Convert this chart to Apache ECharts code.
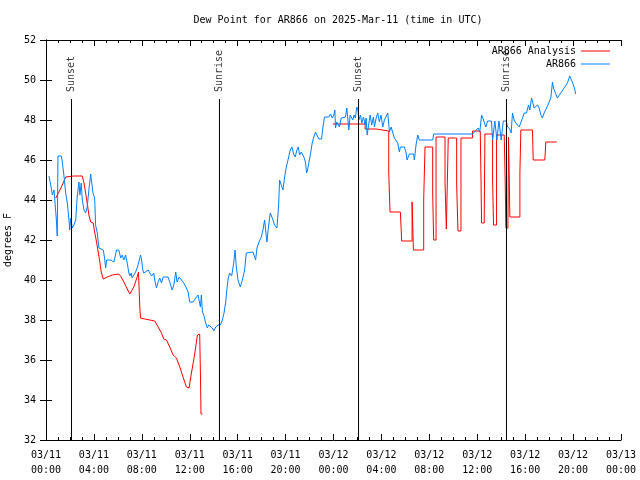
<!DOCTYPE html>
<html><head><meta charset="utf-8">
<script src="https://cdn.jsdelivr.net/npm/echarts@6/dist/echarts.min.js"></script>
<style>html,body{margin:0;padding:0;background:#fff}#c{width:640px;height:480px}</style>
</head><body><div id="c"></div>
<script>
const titleText = 'Dew Point for AR866 on 2025-Mar-11 (time in UTC)';
const yAxisName = 'degrees F';
const seriesNames = ['AR866 Analysis', 'AR866'];
const markerNames = ['Sunset', 'Sunrise', 'Sunset', 'Sunrise'];
const markerHours = [2.13, 14.48, 26.09, 38.44];
// [hours since 03/11 00:00 UTC, dew point F]
const ar866 = [
[0.25,45.2],[0.44,44.6],[0.53,44.25],[0.67,44.5],[0.81,44.6],[0.86,43.05],[0.94,42.2],[1.0,46.2],[1.28,46.2],[1.36,45.9],
[1.5,45.2],[1.64,44.35],[1.78,43.85],[1.92,43.0],[1.98,42.5],[2.06,43.1],[2.19,42.6],[2.33,42.75],[2.48,43.0],[2.61,44.2],
[2.75,44.9],[2.83,44.25],[2.94,44.85],[3.03,44.0],[3.17,43.5],[3.31,43.35],[3.44,43.65],[3.58,44.5],[3.73,45.3],[3.81,44.9],
[3.92,44.35],[4.06,44.1],[4.14,42.75],[4.28,42.35],[4.42,41.6],[4.56,41.5],[4.78,41.5],[4.89,41.1],[4.98,40.6],[5.06,41.0],
[5.39,41.0],[5.67,40.9],[5.89,41.5],[6.08,41.5],[6.23,41.1],[6.36,41.25],[6.5,41.0],[6.64,41.25],[6.78,40.85],[6.92,40.35],
[7.0,40.2],[7.11,40.35],[7.19,40.1],[7.33,40.1],[7.48,40.4],[7.61,40.6],[7.75,40.9],[7.89,41.25],[7.98,41.0],[8.08,40.5],
[8.17,40.35],[8.53,40.5],[8.67,40.35],[8.81,40.2],[9.0,40.35],[9.08,40.0],[9.22,39.6],[9.36,39.9],[9.5,40.1],[9.64,39.85],
[9.78,40.15],[10.19,40.15],[10.33,39.9],[10.53,39.5],[10.67,39.75],[10.83,40.4],[10.94,39.9],[11.11,40.15],[11.31,40.0],[11.5,39.85],
[11.72,39.6],[11.86,39.4],[12.0,38.9],[12.28,38.9],[12.5,39.1],[12.69,39.25],[12.83,39.25],[12.89,38.65],[12.97,39.25],[13.06,38.4],
[13.17,38.25],[13.31,37.9],[13.47,37.6],[13.58,37.75],[13.72,37.85],[13.89,37.6],[14.0,37.45],[14.17,37.65],[14.36,37.75],[14.56,37.75],
[14.72,38.0],[14.86,38.35],[15.0,38.9],[15.11,39.6],[15.22,40.1],[15.33,40.35],[15.5,40.2],[15.67,40.85],[15.78,41.5],[15.89,40.65],
[16.03,40.0],[16.22,39.65],[16.39,40.0],[16.58,40.5],[16.72,41.35],[16.86,41.4],[17.28,41.4],[17.5,41.0],[17.61,41.6],[17.78,41.9],
[17.97,42.15],[18.11,42.5],[18.25,43.0],[18.33,42.5],[18.44,41.9],[18.56,42.6],[18.72,43.35],[18.89,43.1],[19.08,42.75],[19.28,42.6],
[19.42,43.75],[19.5,45.0],[19.64,44.75],[19.78,44.5],[19.92,45.15],[20.06,45.65],[20.22,46.05],[20.39,46.5],[20.53,46.65],[20.67,46.3],
[20.81,46.15],[20.94,46.5],[21.06,46.65],[21.17,46.25],[21.31,46.4],[21.44,46.5],[21.56,46.1],[21.67,45.85],[21.75,45.35],[21.83,45.5],
[21.94,45.85],[22.08,46.3],[22.22,46.85],[22.36,47.15],[22.5,47.4],[22.61,47.25],[22.78,47.05],[23.0,47.05],[23.11,47.6],[23.25,48.15],
[23.61,48.15],[23.75,48.3],[23.89,48.1],[24.03,48.25],[24.11,48.5],[24.17,47.6],[24.28,47.9],[24.42,47.9],[24.5,47.65],[24.64,48.1],
[24.78,48.15],[25.0,48.15],[25.11,48.6],[25.19,48.1],[25.28,47.5],[25.39,48.25],[25.5,48.35],[25.61,48.0],[25.72,48.25],[25.83,48.1],
[25.94,48.65],[26.04,48.5],[26.11,48.0],[26.25,48.25],[26.36,47.85],[26.5,48.15],[26.64,47.75],[26.72,48.1],[26.81,47.25],[26.92,47.7],
[27.06,48.25],[27.19,47.75],[27.33,48.15],[27.42,47.65],[27.56,48.1],[27.69,48.35],[27.83,47.9],[27.97,48.25],[28.11,47.65],[28.25,48.0],
[28.39,48.1],[28.53,48.35],[28.67,47.4],[28.81,47.65],[28.94,47.6],[29.08,47.1],[29.22,47.2],[29.36,46.85],[29.5,46.4],[29.58,46.65],
[29.92,46.65],[30.06,46.35],[30.14,46.0],[30.33,46.3],[30.69,46.3],[30.75,46.0],[30.89,46.75],[31.03,47.25],[31.17,47.0],[32.28,47.0],
[32.36,47.3],[35.61,47.3],[35.83,47.45],[36.08,47.6],[36.21,47.4],[36.36,48.25],[36.47,48.1],[36.58,47.9],[36.72,47.65],[36.86,47.95],
[37.19,47.95],[37.28,47.0],[37.42,47.0],[37.47,47.95],[37.58,47.95],[37.64,47.0],[37.75,47.0],[37.81,47.95],[37.94,47.95],[38.0,47.0],
[38.11,47.0],[38.17,47.95],[38.25,47.95],[38.42,47.95],[38.53,47.65],[38.72,47.55],[38.83,47.35],[38.94,48.35],[39.08,48.0],[39.22,47.85],
[39.36,47.95],[39.5,47.65],[39.64,47.7],[39.78,48.1],[39.92,48.35],[40.11,48.35],[40.28,48.75],[40.39,48.5],[40.53,49.1],[40.61,49.2],
[40.75,48.6],[40.89,48.5],[41.03,48.75],[41.17,48.6],[41.31,48.25],[41.44,48.1],[41.58,48.35],[41.78,48.6],[41.94,48.8],[42.14,49.1],
[42.28,49.9],[42.36,49.6],[42.5,49.5],[42.69,49.1],[42.97,49.35],[43.25,49.6],[43.53,49.85],[43.72,50.2],[43.94,49.9],[44.11,49.6],
[44.22,49.3]
];
const analysisA = [
[0.81,44.1],[1.08,44.4],[1.36,44.75],[1.64,45.15],[2.33,45.2],[3.03,45.2],[3.17,44.85],[3.31,44.35],[3.44,43.85],[3.58,43.25],
[3.73,42.9],[3.94,42.85],[4.06,42.4],[4.19,42.0],[4.33,41.5],[4.47,41.0],[4.61,40.4],[4.78,40.05],[5.11,40.15],[5.53,40.25],
[6.08,40.3],[6.28,40.15],[6.5,39.9],[6.78,39.55],[7.0,39.3],[7.13,39.3],[7.33,39.65],[7.61,40.15],[7.72,40.4],[7.79,40.4],
[7.83,38.65],[7.89,38.1],[8.25,38.05],[8.67,38.0],[9.08,37.95],[9.36,37.65],[9.64,37.35],[9.83,37.05],[10.06,37.0],[10.33,36.65],
[10.61,36.25],[10.89,36.1],[11.17,35.65],[11.44,35.15],[11.72,34.65],[11.94,34.6],[12.14,35.35],[12.33,36.0],[12.5,36.65],[12.64,37.25],
[12.83,37.3],[12.89,35.35],[12.94,33.3],[13.06,33.3]
];
const analysisB = [
[23.94,47.8],[26.64,47.8],[26.64,47.55],[27.56,47.55],[27.56,47.45],[28.61,47.45],[28.61,45.4],[28.72,45.4],[28.72,43.4],[29.58,43.4],
[29.64,42.65],[29.69,41.95],[30.56,41.95],[30.56,43.9],[30.67,43.9],[30.67,41.5],[31.53,41.5],[31.53,44.05],[31.64,44.05],[31.64,46.65],
[32.28,46.65],[32.28,44.35],[32.36,44.35],[32.36,42.0],[32.56,42.0],[32.56,47.15],[33.31,47.15],[33.31,44.85],[33.42,44.85],[33.42,42.55],
[33.58,42.55],[33.58,47.1],[34.28,47.1],[34.28,44.8],[34.39,44.8],[34.39,42.45],[34.64,42.45],[34.64,47.1],[35.61,47.1],[35.61,47.45],
[36.25,47.45],[36.31,45.15],[36.36,42.85],[36.58,42.85],[36.64,47.3],[37.28,47.3],[37.28,45.0],[37.36,42.75],[37.61,42.75],[37.61,47.25],
[38.25,47.25],[38.33,45.0],[38.39,42.6],[38.56,42.6],[38.61,47.15],[38.67,45.15],[38.72,43.15],[39.56,43.15],[39.56,45.35],[39.64,47.5],
[40.61,47.5],[40.64,46.75],[40.67,46.0],[41.64,46.0],[41.69,46.5],[41.72,46.9],[42.64,46.9]
];
const markerTop = 49.05;
const markerLabelAt = 49.4;

const FONT = "'DejaVu Sans Mono', monospace";
const RED = '#ff0000', BLUE = '#0080ff';
const pad = n => (n < 10 ? '0' : '') + n;
function timeLabel(v) {
  const day = 11 + Math.floor(v / 24);
  const hh = Math.round(v % 24);
  return '03/' + pad(day) + '\n' + pad(hh) + ':00';
}
const xBase = {
  type: 'value', min: 0, max: 48, interval: 4,
  axisLine: { show: true, lineStyle: { color: '#000', width: 1 } },
  axisTick: { show: true, inside: true, length: 6, lineStyle: { color: '#000' } },
  minorTick: { show: true, splitNumber: 4, length: 3, lineStyle: { color: '#000' } },
  splitLine: { show: false }
};
const yBase = {
  type: 'value', min: 32, max: 52, interval: 2,
  axisLine: { show: true, lineStyle: { color: '#000', width: 1 } },
  axisTick: { show: true, inside: true, length: 6, lineStyle: { color: '#000' } },
  splitLine: { show: false }
};
const series = [
  { name: seriesNames[0], type: 'line', data: analysisA, showSymbol: false, symbol: 'none',
    lineStyle: { color: RED, width: 1 }, itemStyle: { color: RED }, z: 2 },
  { name: seriesNames[0], type: 'line', data: analysisB, showSymbol: false, symbol: 'none',
    lineStyle: { color: RED, width: 1 }, itemStyle: { color: RED }, z: 2 },
  { name: seriesNames[1], type: 'line', data: ar866, showSymbol: false, symbol: 'none',
    lineStyle: { color: BLUE, width: 1 }, itemStyle: { color: BLUE }, z: 3 }
];
markerHours.forEach((h, i) => {
  series.push({ type: 'line', data: [[h, 32], [h, markerTop]], showSymbol: false, symbol: 'none',
    silent: true, lineStyle: { color: '#000', width: 1 }, z: 4 });
  series.push({ type: 'scatter', data: [[h, markerLabelAt]], symbolSize: 0, silent: true, z: 4,
    label: { show: true, position: 'inside', formatter: markerNames[i], rotate: 90, align: 'left',
      verticalAlign: 'middle', color: '#000', fontFamily: FONT, fontSize: 10 } });
});
const legendCommon = {
  orient: 'horizontal', right: 30, align: 'right', itemWidth: 29, itemHeight: 1,
  icon: 'rect', itemGap: 0, padding: 0, selectedMode: false,
  textStyle: { color: '#000', fontFamily: FONT, fontSize: 10, padding: [0, 0, 0, 0] }
};
const chart = echarts.init(document.getElementById('c'), null, { renderer: 'canvas' });
chart.setOption({
  animation: false,
  backgroundColor: '#fff',
  title: { text: titleText, left: 333, top: 10, textAlign: 'center',
    textStyle: { color: '#000', fontFamily: FONT, fontSize: 10, fontWeight: 'normal' } },
  legend: [
    Object.assign({}, legendCommon, { data: [seriesNames[0]], top: 46 }),
    Object.assign({}, legendCommon, { data: [seriesNames[1]], top: 59 })
  ],
  grid: { left: 46, right: 19, top: 40, bottom: 40, containLabel: false, outerBoundsMode: 'none' },
  xAxis: [
    Object.assign({}, xBase, { position: 'bottom',
      axisLabel: { show: true, formatter: timeLabel, color: '#000', fontFamily: FONT, fontSize: 10,
        margin: 8, lineHeight: 15, showMinLabel: true, showMaxLabel: true } }),
    Object.assign({}, xBase, { position: 'top', axisLabel: { show: false } })
  ],
  yAxis: [
    Object.assign({}, yBase, { position: 'left', name: yAxisName, nameLocation: 'middle', nameGap: 30,
      nameRotate: 90, nameTextStyle: { color: '#000', fontFamily: FONT, fontSize: 10 },
      axisLabel: { show: true, color: '#000', fontFamily: FONT, fontSize: 10, margin: 10 } }),
    Object.assign({}, yBase, { position: 'right', axisLabel: { show: false } })
  ],
  series: series
});
</script>
</body></html>
